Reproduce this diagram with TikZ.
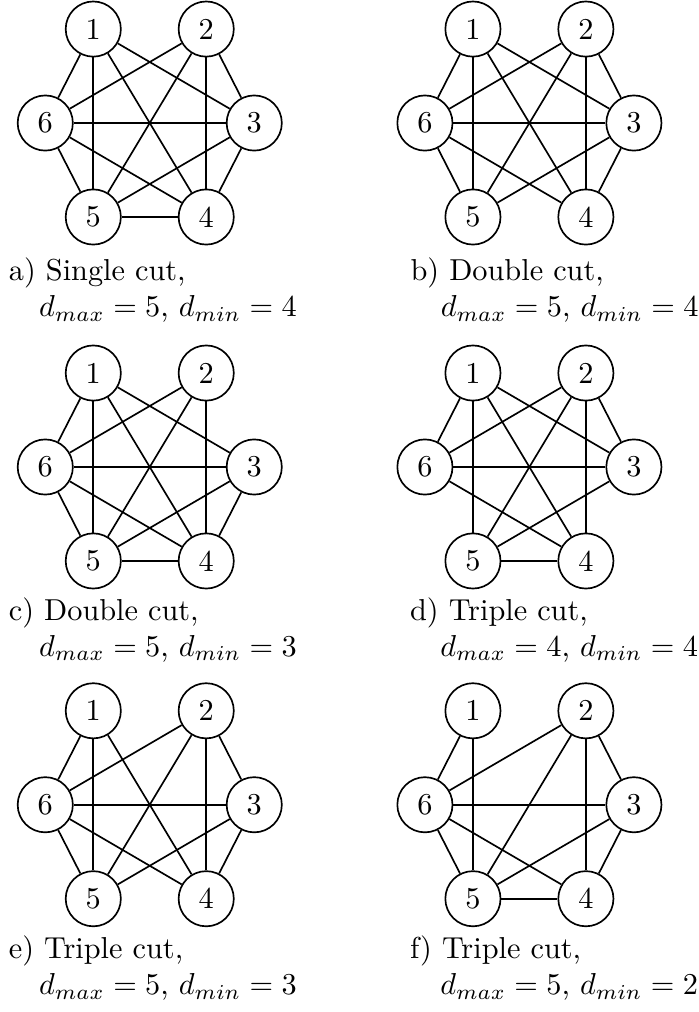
\documentclass[tikz,border=0pt]{standalone}
\usepackage{amsmath}
\usepackage{tikz}
\usetikzlibrary{positioning}
\tikzset{
  vertex/.style={circle, draw, minimum size=0.64cm, inner sep=0pt, line width=0.55pt},
  edge/.style={line width=0.55pt},
  caption/.style={align=left, anchor=base west, inner sep=0pt}
}
% six vertices on a hexagon, then the listed edges
\newcommand{\hexgraph}[3]{%
  \begin{scope}[shift={(#2)}]
    \node[vertex] (#11) at (-0.655, 1.09) {1};
    \node[vertex] (#12) at ( 0.655, 1.09) {2};
    \node[vertex] (#13) at ( 1.212, 0)    {3};
    \node[vertex] (#14) at ( 0.655,-1.09) {4};
    \node[vertex] (#15) at (-0.655,-1.09) {5};
    \node[vertex] (#16) at (-1.212, 0)    {6};
    \foreach \u/\v in {#3}
      \draw[edge] (#1\u) -- (#1\v);
  \end{scope}}

\begin{document}
\begin{tikzpicture}
  \useasboundingbox (0,0) rectangle (8.097,-11.739);

  % a) single cut
  \hexgraph{a}{1.737,-1.427}{1/3,1/4,1/5,1/6,2/3,2/4,2/5,2/6,3/4,3/5,3/6,4/5,4/6,5/6}
  \node[caption] (capa) at (0.096,-3.676)
    {a) Single cut,\\ \hspace*{1em}$d_{max}=5$, $d_{min}=4$};

  % b) double cut
  \hexgraph{b}{6.141,-1.427}{1/3,1/4,1/5,1/6,2/3,2/4,2/5,2/6,3/4,3/5,3/6,4/6,5/6}
  \node[caption] (capb) at (4.756,-3.676)
    {b) Double cut,\\ \hspace*{1em}$d_{max}=5$, $d_{min}=4$};

  % c) double cut
  \hexgraph{c}{1.737,-5.417}{1/3,1/4,1/5,1/6,2/4,2/5,2/6,3/4,3/5,3/6,4/5,4/6,5/6}
  \node[caption] (capc) at (0.096,-7.614)
    {c) Double cut,\\ \hspace*{1em}$d_{max}=5$, $d_{min}=3$};

  % d) triple cut
  \hexgraph{d}{6.141,-5.417}{1/3,1/4,1/5,1/6,2/3,2/4,2/5,2/6,3/5,3/6,4/5,4/6}
  \node[caption] (capd) at (4.750,-7.614)
    {d) Triple cut,\\ \hspace*{1em}$d_{max}=4$, $d_{min}=4$};

  % e) triple cut
  \hexgraph{e}{1.737,-9.335}{1/4,1/5,1/6,2/3,2/4,2/5,2/6,3/4,3/5,3/6,4/6,5/6}
  \node[caption] (cape) at (0.096,-11.538)
    {e) Triple cut,\\ \hspace*{1em}$d_{max}=5$, $d_{min}=3$};

  % f) triple cut
  \hexgraph{f}{6.141,-9.335}{1/5,1/6,2/3,2/4,2/5,2/6,3/4,3/5,3/6,4/5,4/6,5/6}
  \node[caption] (capf) at (4.750,-11.538)
    {f) Triple cut,\\ \hspace*{1em}$d_{max}=5$, $d_{min}=2$};
\end{tikzpicture}
\end{document}
